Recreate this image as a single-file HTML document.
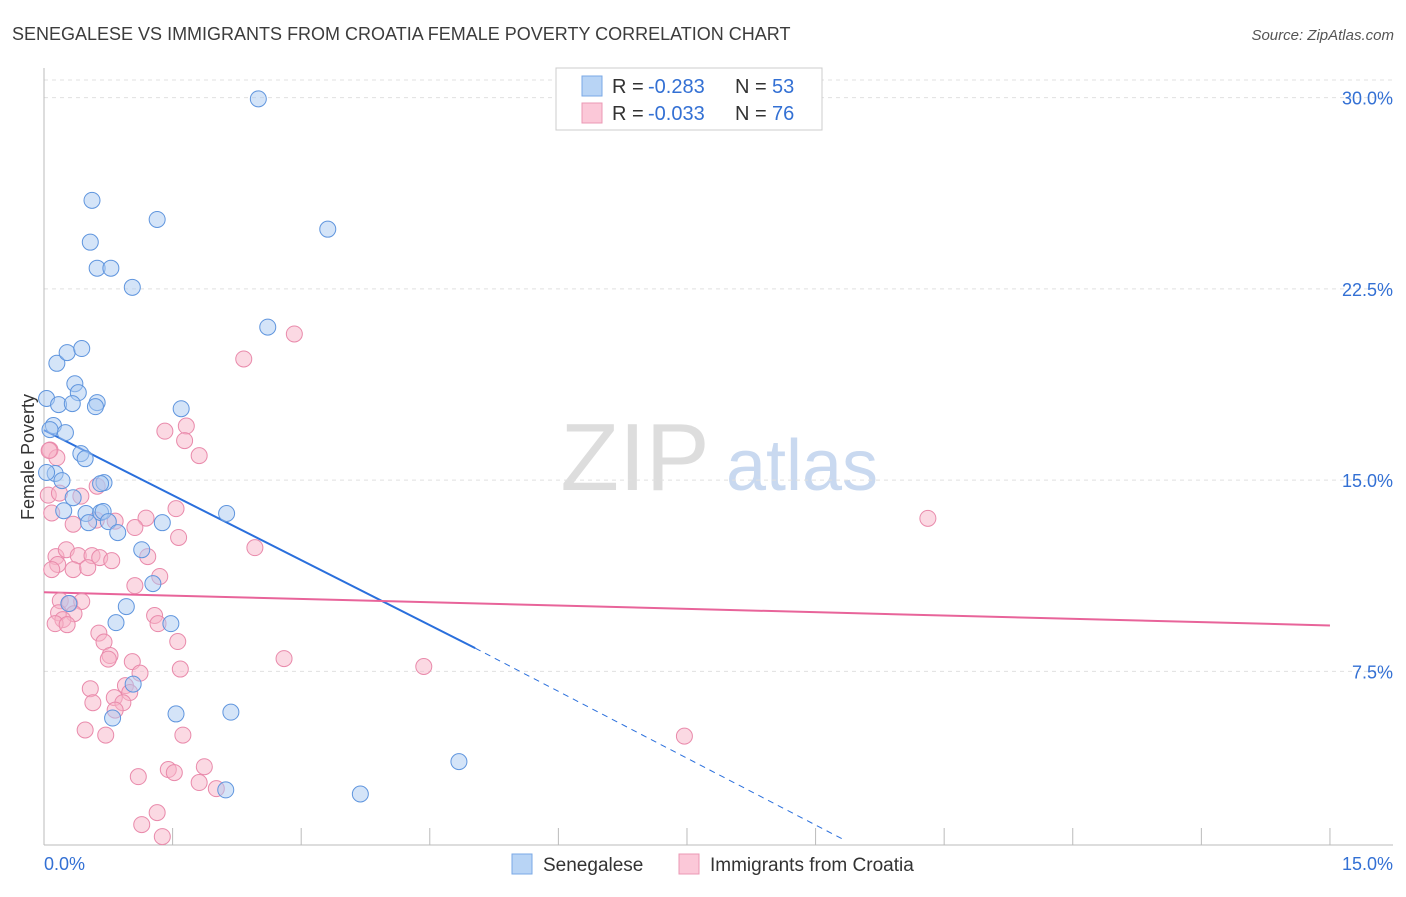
<!DOCTYPE html>
<html><head><meta charset="utf-8"><style>
body{margin:0;background:#fff;font-family:"Liberation Sans",sans-serif;}
svg text{font-family:"Liberation Sans",sans-serif;}
</style></head><body>
<svg id="chart" width="1406" height="892" xmlns="http://www.w3.org/2000/svg">
<text x="12" y="40" font-size="18" fill="#3c3c3c">SENEGALESE VS IMMIGRANTS FROM CROATIA FEMALE POVERTY CORRELATION CHART</text>
<text x="1394" y="40" font-size="15" fill="#555" text-anchor="end" font-style="italic">Source: ZipAtlas.com</text>
<text transform="translate(34,457) rotate(-90)" font-size="18" fill="#333" text-anchor="middle">Female Poverty</text>
<g>
<text x="635" y="490" font-size="96" fill="#ddd" text-anchor="middle" font-family="Liberation Serif">ZIP</text>
<text x="802" y="490" font-size="72" fill="#c9d9f0" text-anchor="middle">atlas</text>
</g>
<g id="grid"></g><g id="axes"></g><g id="lines"></g><g id="pts"></g>
<g>
<rect x="556" y="68" width="266" height="62" fill="#fff" stroke="#ccc"/>
<rect x="582" y="76" width="20" height="20" fill="#b8d4f5" stroke="#7aa8e6"/>
<rect x="582" y="103" width="20" height="20" fill="#fbc8d8" stroke="#eb98b4"/>
<text x="612" y="93" font-size="20" fill="#333">R =</text>
<text x="648" y="93" font-size="20" fill="#3370d4">-0.283</text>
<text x="735" y="93" font-size="20" fill="#333">N =</text>
<text x="772" y="93" font-size="20" fill="#3370d4">53</text>
<text x="612" y="120" font-size="20" fill="#333">R =</text>
<text x="648" y="120" font-size="20" fill="#3370d4">-0.033</text>
<text x="735" y="120" font-size="20" fill="#333">N =</text>
<text x="772" y="120" font-size="20" fill="#3370d4">76</text>
</g>
<g>
<rect x="512" y="854" width="20" height="20" fill="#b8d4f5" stroke="#7aa8e6"/>
<text x="543" y="871" font-size="19" fill="#333">Senegalese</text>
<rect x="679" y="854" width="20" height="20" fill="#fbc8d8" stroke="#eb98b4"/>
<text x="710" y="871" font-size="19" fill="#333">Immigrants from Croatia</text>
</g>
</svg>
<script>
const yTicks=[7.5,15,22.5,30];
const yTickLabels=["7.5%","15.0%","22.5%","30.0%"];
const xTicks=[0,1.5,3,4.5,6,7.5,9,10.5,12,13.5,15];
const blueX=[2.5,0.56,1.32,0.54,3.31,0.62,0.78,1.03,2.61,0.15,0.27,0.44,0.36,0.40,0.03,0.17,0.33,0.62,0.60,1.60,0.11,0.25,0.07,0.43,0.48,0.13,0.21,0.70,0.66,0.34,0.49,0.23,0.66,0.69,0.75,0.52,0.86,2.13,1.38,1.14,1.27,0.96,0.29,1.48,0.84,1.04,0.80,1.54,2.18,4.84,2.12,3.69,0.03];
const blueY=[29.95,25.97,25.22,24.33,24.84,23.31,23.31,22.56,21.0,19.58,20.0,20.16,18.78,18.43,18.2,17.96,18.0,18.04,17.88,17.8,17.14,16.86,16.98,16.04,15.84,15.26,14.98,14.9,14.86,14.31,13.69,13.8,13.73,13.77,13.37,13.33,12.94,13.69,13.33,12.27,10.94,10.04,10.16,9.37,9.41,7.0,5.67,5.83,5.9,3.96,2.85,2.69,15.3];
const pinkX=[2.92,2.33,1.41,1.66,1.64,1.81,10.31,0.07,0.05,0.43,0.62,1.19,1.54,1.06,1.57,0.34,0.83,0.14,0.26,0.40,0.56,0.65,0.79,0.16,0.09,0.34,0.51,2.46,1.21,1.35,1.06,0.19,0.30,0.44,0.17,0.35,0.22,0.13,0.27,1.29,1.33,1.56,0.64,0.70,0.77,1.03,0.75,1.12,1.59,2.80,4.43,0.95,0.54,1.00,0.82,0.92,0.57,0.83,0.72,0.48,1.62,7.47,1.87,1.45,1.52,1.10,1.81,2.01,1.32,1.14,1.38,0.18,0.61,0.15,0.06,0.09];
const pinkY=[20.73,19.75,16.92,17.12,16.55,15.96,13.5,16.18,14.41,14.37,14.76,13.51,13.88,13.14,12.75,13.27,13.39,12.0,12.27,12.04,12.04,11.96,11.84,11.69,11.49,11.49,11.57,12.35,12.0,11.22,10.86,10.27,10.16,10.24,9.8,9.76,9.53,9.37,9.33,9.69,9.37,8.67,9.0,8.65,8.12,7.88,7.98,7.43,7.59,8.0,7.69,6.94,6.82,6.67,6.47,6.27,6.27,5.98,5.0,5.2,5.0,4.96,3.76,3.65,3.53,3.37,3.14,2.9,1.96,1.49,1.02,14.49,13.43,15.88,16.16,13.71];
const blueFit=[0,16.96,5.03,8.41,9.34,0.88];
const pinkFit=[0,10.6,15,9.3];
const X=v=>44+v*85.73, Y=v=>862.6-v*25.5;
const NS="http://www.w3.org/2000/svg";
function mk(p,t,a){const e=document.createElementNS(NS,t);for(const k in a)e.setAttribute(k,a[k]);document.getElementById(p).appendChild(e);return e;}
yTicks.forEach((t,i)=>{
 const l=mk('grid','line',{x1:44,x2:1393,y1:Y(t),y2:Y(t),stroke:'#e0e0e0','stroke-dasharray':'4,4'});
 
 
 const tx=mk('grid','text',{x:1393,y:Y(t)+7,'font-size':18,fill:'#3370d4','text-anchor':'end'});
 tx.textContent=yTickLabels[i];
 
 
});
const gl=mk('grid','line',{x1:44,x2:1393,y1:80,y2:80,stroke:'#e0e0e0','stroke-dasharray':'4,4'});


const ax=mk('axes','line',{x1:44,x2:44,y1:68,y2:845,stroke:'#bbb'});


const bx=mk('axes','line',{x1:44,x2:1393,y1:845,y2:845,stroke:'#bbb'});


xTicks.forEach(t=>{
 const l=mk('axes','line',{x1:X(t),x2:X(t),y1:828,y2:845,stroke:'#bbb'});
 
 
});
[["0.0%",44,'start'],["15.0%",1393,'end']].forEach(([s,x,a])=>{
 const t=mk('axes','text',{x:x,y:870,'font-size':18,fill:'#3370d4','text-anchor':a});t.textContent=s;
 
 
});
function dots(xs,ys,fill,stroke,name){xs.forEach((x,i)=>{
 const c=mk('pts','circle',{cx:X(x),cy:Y(ys[i]),r:8,fill:fill,stroke:stroke,'stroke-width':1,'fill-opacity':0.5});
 
 
});}
dots(pinkX,pinkY,'#f7b3c8','#e98aab','croatia-point');
dots(blueX,blueY,'#a9c9f2','#5f95de','senegalese-point');
const b1=mk('lines','line',{x1:X(blueFit[0]),y1:Y(blueFit[1]),x2:X(blueFit[2]),y2:Y(blueFit[3]),stroke:'#2a6fdc','stroke-width':2});


const b2=mk('lines','line',{x1:X(blueFit[2]),y1:Y(blueFit[3]),x2:X(blueFit[4]),y2:Y(blueFit[5]),stroke:'#2a6fdc','stroke-width':1,'stroke-dasharray':'6,5'});


const p1=mk('lines','line',{x1:X(pinkFit[0]),y1:Y(pinkFit[1]),x2:X(pinkFit[2]),y2:Y(pinkFit[3]),stroke:'#e8649a','stroke-width':2});


</script>
</body></html>
